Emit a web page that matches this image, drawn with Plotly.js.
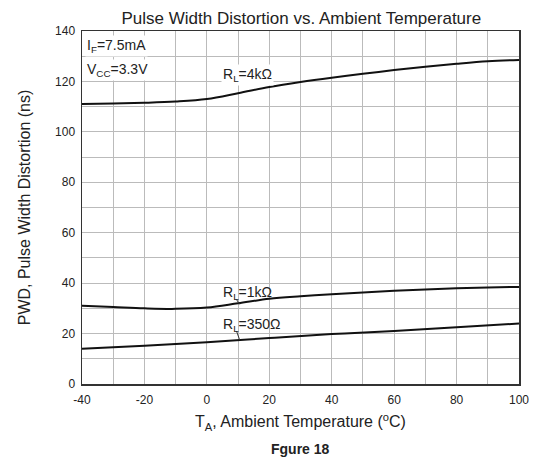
<!DOCTYPE html>
<html><head><meta charset="utf-8">
<script src="https://cdn.plot.ly/plotly-3.0.1.min.js"></script>
<style>body{margin:0;background:#fff}</style>
</head><body>
<div id="chart" style="width:543px;height:468px"></div>
<script>
const temps4k = [-40, -30, -20, -10, 0, 10, 20, 30, 40, 50, 60, 70, 80, 90, 100];
const pwd4k   = [111, 111.2, 111.5, 112, 113, 115.3, 117.8, 119.8, 121.5, 123, 124.5, 125.8, 127, 128, 128.5];
const temps1k = [-40, -30, -20, -10, 0, 10, 20, 30, 40, 50, 60, 70, 80, 90, 100];
const pwd1k   = [31, 30.5, 30, 29.8, 30.3, 32, 33.8, 34.8, 35.6, 36.3, 37, 37.5, 38, 38.3, 38.5];
const temps350 = [-40, -20, 0, 20, 40, 60, 80, 100];
const pwd350   = [14, 15.2, 16.6, 18.2, 19.8, 21, 22.5, 24];
const xTicks = [-40, -20, 0, 20, 40, 60, 80, 100];
const yTicks = [0, 20, 40, 60, 80, 100, 120, 140];

const lineStyle = {color: '#111', width: 2, shape: 'spline'};
const traces = [
  {x: temps4k, y: pwd4k, mode: 'lines', line: lineStyle, hoverinfo: 'skip'},
  {x: temps1k, y: pwd1k, mode: 'lines', line: lineStyle, hoverinfo: 'skip'},
  {x: temps350, y: pwd350, mode: 'lines', line: lineStyle, hoverinfo: 'skip'}
];
const txt = '#222';
const font = {family: 'Liberation Sans, Arial, sans-serif', color: txt};
const layout = {
  width: 543, height: 468,
  margin: {l: 82, r: 24, t: 31, b: 84},
  paper_bgcolor: '#fff', plot_bgcolor: '#fff',
  showlegend: false,
  font: font,
  title: {text: 'Pulse Width Distortion vs. Ambient Temperature', font: {family: font.family, size: 17, color: txt},
          x: 0.555, xanchor: 'center', y: 0.975, yanchor: 'top', yref: 'container'},
  xaxis: {range: [-40, 100], tickvals: xTicks, ticktext: xTicks.map(String),
          showgrid: false, zeroline: false, showline: true, mirror: true, linecolor: '#333', linewidth: 1.5,
          ticks: 'outside', ticklen: 4, tickcolor: 'rgba(0,0,0,0)', tickfont: {size: 12, color: txt},
          title: {text: 'T<sub>A</sub>, Ambient Temperature (<sup>o</sup>C)', font: {size: 16, color: txt}, standoff: 10},
          minor: {dtick: 10, showgrid: true, gridcolor: '#bbb', gridwidth: 1}},
  yaxis: {range: [0, 140], tickvals: yTicks, showgrid: false, zeroline: false, showline: true, mirror: true,
          linecolor: '#333', linewidth: 1.5, ticks: 'outside', ticklen: 3, tickcolor: 'rgba(0,0,0,0)',
          tickfont: {size: 12, color: txt},
          title: {text: 'PWD, Pulse Width Distortion (ns)', font: {size: 16, color: txt}, standoff: 20},
          minor: {dtick: 10, showgrid: true, gridcolor: '#bbb', gridwidth: 1}},
  annotations: [
    {x: -39, y: 134, xref: 'x', yref: 'y', xanchor: 'left', yanchor: 'middle', showarrow: false,
     text: 'I<sub>F</sub>=7.5mA', font: {size: 14, color: txt}, bgcolor: '#fff'},
    {x: -39, y: 124.5, xref: 'x', yref: 'y', xanchor: 'left', yanchor: 'middle', showarrow: false,
     text: 'V<sub>CC</sub>=3.3V', font: {size: 14, color: txt}, bgcolor: '#fff'},
    {x: 4.5, y: 122.5, xref: 'x', yref: 'y', xanchor: 'left', yanchor: 'middle', showarrow: false,
     text: 'R<sub>L</sub>=4kΩ', font: {size: 14, color: txt}, bgcolor: '#fff'},
    {x: 4.5, y: 36, xref: 'x', yref: 'y', xanchor: 'left', yanchor: 'middle', showarrow: false,
     text: 'R<sub>L</sub>=1kΩ', font: {size: 14, color: txt}},
    {x: 4.5, y: 23.5, xref: 'x', yref: 'y', xanchor: 'left', yanchor: 'middle', showarrow: false,
     text: 'R<sub>L</sub>=350Ω', font: {size: 14, color: txt}},
    {x: 0.5, y: -0.155, xref: 'paper', yref: 'paper', xanchor: 'center', yanchor: 'top', showarrow: false,
     text: '<b>Fgure 18</b>', font: {size: 14, color: txt}}
  ],
  shapes: [
    {type: 'line', xref: 'x', yref: 'y', x0: 9.5, y0: 33.5, x1: 10.5, y1: 31.6, line: {color: '#333', width: 1}},
    {type: 'line', xref: 'x', yref: 'y', x0: 9.5, y0: 21, x1: 10.5, y1: 17.5, line: {color: '#333', width: 1}}
  ]
};
Plotly.newPlot('chart', traces, layout, {displayModeBar: false, staticPlot: true});
</script>
</body></html>
